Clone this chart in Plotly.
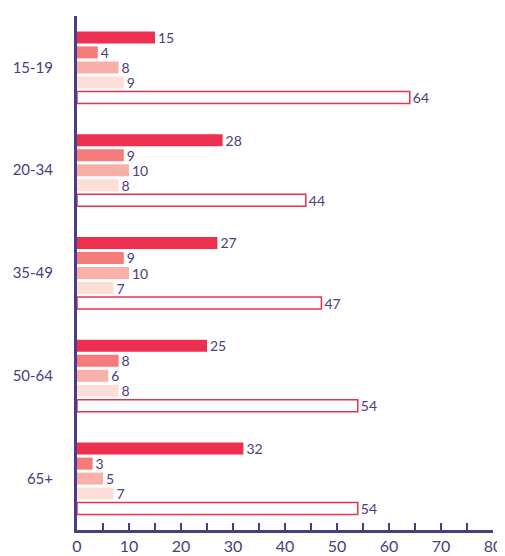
import plotly.graph_objects as go

categories = ["15-19", "20-34", "35-49", "50-64", "65+"]
series_a = [15, 28, 27, 25, 32]
series_b = [4, 9, 9, 8, 3]
series_c = [8, 10, 10, 6, 5]
series_d = [9, 8, 7, 8, 7]
series_e = [64, 44, 47, 54, 54]
x_ticks = [0, 10, 20, 30, 40, 50, 60, 70, 80]

PURPLE = "#4a3d80"
RED = "#ee3050"
FONT = "Lato, 'Noto Sans', sans-serif"

fills = ["#ee3050", "#f47b7a", "#f9b0a8", "#fddfd8", "#ffffff"]
lines = ["#ee3050", "#f47b7a", "#f9b0a8", "#fddfd8", RED]
lw = [0, 0, 0, 0, 1.5]

fig = go.Figure()
for vals, fc, lc, w in zip([series_a, series_b, series_c, series_d, series_e], fills, lines, lw):
    fig.add_trace(go.Bar(
        y=categories, x=vals, orientation="h",
        marker=dict(color=fc, line=dict(color=lc, width=w)),
        text=[str(v) for v in vals], textposition="outside",
        constraintext="none",
        textfont=dict(color=PURPLE, size=14, family=FONT),
        cliponaxis=False, showlegend=False, hoverinfo="x+y",
    ))

# page body has an 8px default margin; figure is sized to fit the 505x556 window
fig.update_layout(
    width=497, height=548,
    margin=dict(l=69, r=12, t=8, b=26),
    barmode="group", bargap=0.27, bargroupgap=0.2,
    plot_bgcolor="white", paper_bgcolor="white",
    font=dict(family=FONT, color=PURPLE, size=15),
    xaxis=dict(
        range=[0, 80], tickvals=x_ticks, ticktext=[str(t) for t in x_ticks],
        showgrid=False, zeroline=False, automargin=False,
        showline=True, linecolor=PURPLE, linewidth=3,
        ticks="inside", ticklen=7, tickwidth=1.5, tickcolor=PURPLE,
        minor=dict(dtick=5, ticks="inside", ticklen=7, tickwidth=1.5, tickcolor=PURPLE),
        tickfont=dict(size=16, color=PURPLE),
    ),
    yaxis=dict(
        autorange="reversed", showgrid=False, zeroline=False, automargin=False,
        showline=True, linecolor=PURPLE, linewidth=3,
        ticks="", ticklabelstandoff=18,
        tickfont=dict(size=15, color=PURPLE),
    ),
)

fig.write_html("out.html")
